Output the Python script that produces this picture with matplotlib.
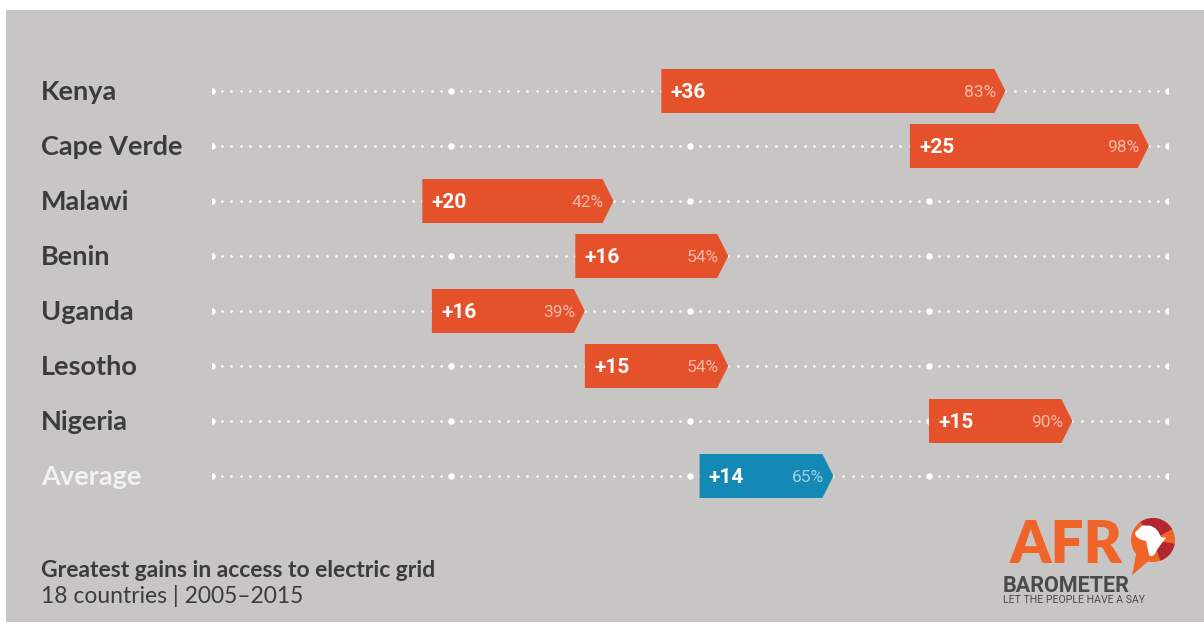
import numpy as np
import matplotlib
matplotlib.use('Agg')
import matplotlib.pyplot as plt
import matplotlib.transforms as mtransforms
from matplotlib.patches import Polygon, Rectangle, Circle, Wedge


# ----------- Data (2015 level and gain since 2005, in %) ----------- #
countries = ['Kenya', 'Cape Verde', 'Malawi', 'Benin', 'Uganda', 'Lesotho', 'Nigeria', 'Average']
gains = [36, 25, 20, 16, 16, 15, 15, 14]
level_2015 = [83, 98, 42, 54, 39, 54, 90, 65]

title = 'Greatest gains in access to electric grid'
subtitle = '18 countries | 2005\u20132015'

BG = '#c7c6c4'
ORANGE = '#e5512a'
BLUE = '#1589b5'
DARK = '#3c3c3c'

W, H = 1204, 630
fig = plt.figure(figsize=(W / 100, H / 100), dpi=100, facecolor='white')

# ----------- background layer (pixel coords) ----------- #
ax_bg = fig.add_axes([0, 0, 1, 1], zorder=0)
ax_bg.set_xlim(0, W)
ax_bg.set_ylim(H, 0)
ax_bg.axis('off')
ax_bg.add_patch(Rectangle((6, 10), W - 6, 612, color=BG, lw=0))

# ----------- main axes: 0..100 % mapped on dotted guides ----------- #
x0, x1 = 212, 1168
top, bot = 63.5, 503.5
ax = fig.add_axes([x0 / W, (H - bot) / H, (x1 - x0) / W, (bot - top) / H], zorder=1)
ax.set_facecolor('none')
ax.set_xlim(0, 100)
ax.set_ylim(len(countries) - 0.5, -0.5)
ax.axis('off')

ticks_small = [p for p in range(0, 101) if p % 25 != 0]
ticks_big = list(range(0, 101, 25))
for i in range(len(countries)):
    ax.scatter(ticks_small, [i] * len(ticks_small), s=3.5, color='white', lw=0, zorder=1)
    ax.scatter(ticks_big, [i] * len(ticks_big), s=22, color='white', lw=0, zorder=1)

tip = 1.15
half = 0.4
for i, (name, g, end) in enumerate(zip(countries, gains, level_2015)):
    start = end - g
    col = BLUE if name == 'Average' else ORANGE
    pts = [(start, i - half), (end - tip, i - half), (end, i),
           (end - tip, i + half), (start, i + half)]
    ax.add_patch(Polygon(pts, closed=True, color=col, lw=0, zorder=2))
    ax.text(start + 0.95, i + 0.135, '+%d' % g, color='white', fontsize=15,
            fontweight='bold', family=['Roboto', 'DejaVu Sans'], ha='left',
            va='baseline', zorder=3)
    ax.text(end - 1.0, i + 0.11, '%d%%' % end, color='white', alpha=0.6,
            fontsize=12.5, family=['Roboto', 'DejaVu Sans'], ha='right',
            va='baseline', zorder=3)

# country labels at fixed pixel x, row y from the data axis
lab_tr = mtransforms.blended_transform_factory(fig.transFigure, ax.transData)
for i, name in enumerate(countries):
    col = '#f2f2f2' if name == 'Average' else DARK
    ax.text(41 / W, i + 0.165, name, transform=lab_tr, color=col, fontsize=19.5,
            fontweight='bold', family=['Lato', 'DejaVu Sans'], ha='left',
            va='baseline')

# ----------- title block ----------- #
fig.text(41 / W, (H - 577) / H, title, color=DARK, fontsize=16.5, fontweight='bold',
         family=['Lato', 'DejaVu Sans'], ha='left', va='baseline')
fig.text(41 / W, (H - 603) / H, subtitle, color=DARK, fontsize=16.5,
         family=['Lato', 'DejaVu Sans'], ha='left', va='baseline')

# ----------- logo ----------- #
LOGO = '#f0642a'
RED = '#b3262d'
ax_bg.text(1010, 563, 'AFR', color=LOGO, fontsize=42, fontweight='heavy',
           family=['Lato', 'DejaVu Sans'], ha='left', va='baseline')
cx, cy, r = 1153, 540, 22
ax_bg.add_patch(Polygon([(cx - 0.75 * r, cy + 0.55 * r), (cx - 0.2 * r, cy + 0.95 * r),
                         (cx - 0.95 * r, cy + 1.6 * r)], closed=True, color=LOGO, lw=0))
ax_bg.add_patch(Circle((cx, cy), r, color=LOGO, lw=0))
# axes y is inverted, so angles run clockwise on screen
ax_bg.add_patch(Wedge((cx, cy), r, 235, 330, color=RED, lw=0))
ax_bg.add_patch(Wedge((cx, cy), r, 10, 70, color=RED, lw=0))
africa = np.array([(-0.75, 0.5), (-0.45, 0.78), (0.0, 0.76), (0.25, 0.62), (0.4, 0.45),
                   (0.55, 0.15), (0.82, 0.12), (0.6, -0.15), (0.38, -0.45), (0.22, -0.75),
                   (0.05, -0.88), (-0.08, -0.82), (-0.18, -0.4), (-0.25, -0.05),
                   (-0.55, 0.02), (-0.8, 0.2), (-0.85, 0.38)])
ax_bg.add_patch(Polygon(np.c_[cx - 0.1 * r + africa[:, 0] * r * 0.85,
                              cy - africa[:, 1] * r * 0.85], closed=True, color='white', lw=0))
ax_bg.text(1003, 592, 'BAROMETER', color='#4a4a4a', fontsize=15.5, fontweight='bold',
           family=['Roboto', 'DejaVu Sans'], ha='left', va='baseline')
ax_bg.text(1003, 603, 'LET THE PEOPLE HAVE A SAY', color='#4a4a4a', fontsize=7.6,
           family=['Roboto', 'DejaVu Sans'], ha='left', va='baseline')

fig.savefig('out.png', dpi=100, facecolor=fig.get_facecolor())
